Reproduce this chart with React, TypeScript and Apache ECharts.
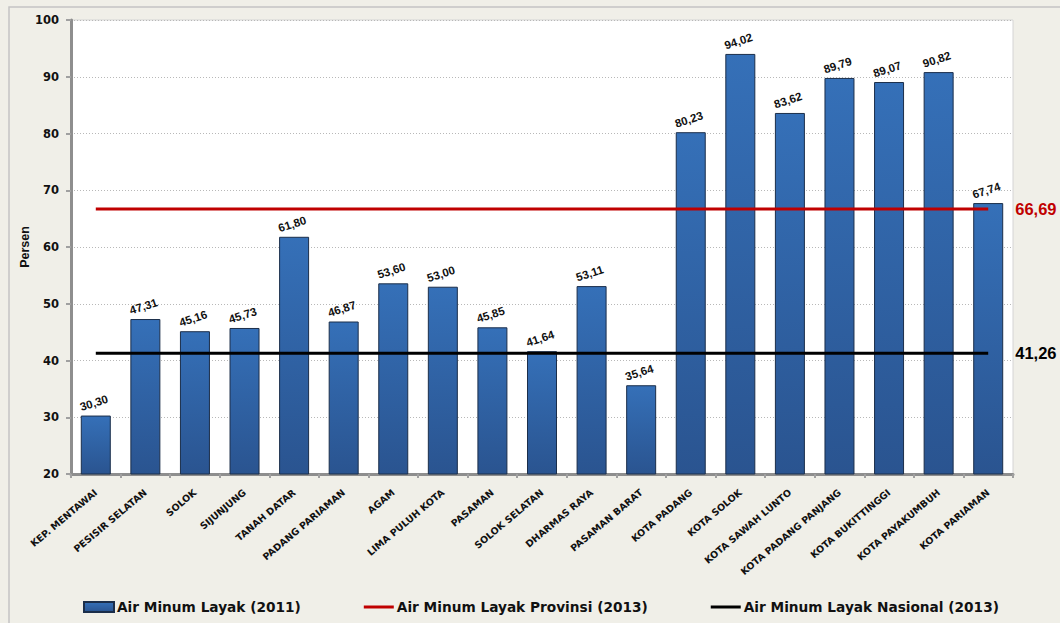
import React, { useEffect, useRef } from "react";
import * as echarts from "echarts";

const categories = [
  "KEP. MENTAWAI", "PESISIR SELATAN", "SOLOK", "SIJUNJUNG", "TANAH DATAR",
  "PADANG PARIAMAN", "AGAM", "LIMA PULUH KOTA", "PASAMAN", "SOLOK SELATAN",
  "DHARMAS RAYA", "PASAMAN BARAT", "KOTA PADANG", "KOTA SOLOK", "KOTA SAWAH LUNTO",
  "KOTA PADANG PANJANG", "KOTA BUKITTINGGI", "KOTA PAYAKUMBUH", "KOTA PARIAMAN",
];
const airMinum2011 = [
  30.3, 47.31, 45.16, 45.73, 61.8, 46.87, 53.6, 53.0, 45.85, 41.64,
  53.11, 35.64, 80.23, 94.02, 83.62, 89.79, 89.07, 90.82, 67.74,
];
const provinsi2013 = 66.69;
const nasional2013 = 41.26;
const seriesNames = [
  "Air Minum Layak (2011)",
  "Air Minum Layak Provinsi (2013)",
  "Air Minum Layak Nasional (2013)",
];

const fmt = (v: number) => v.toFixed(2).replace(".", ",");

export default function App() {
  const ref = useRef<HTMLDivElement>(null);
  useEffect(() => {
    if (!ref.current) return;
    const chart = echarts.init(ref.current, undefined, { renderer: "svg" });
    const font = "DejaVu Sans";
    const font2 = "Liberation Sans";
    const lineIcon = "path://M0,0 H30 V3 H0 Z";
    chart.setOption({
      animation: false,
      backgroundColor: "#F0EFE8",
      textStyle: { fontFamily: font },
      graphic: [
        {
          type: "rect",
          shape: { x: 9, y: 7, width: 1100, height: 700 },
          style: { fill: "none", stroke: "#C4C4C4", lineWidth: 1.5 },
          silent: true,
        },
      ],
      grid: {
        left: 71, right: 47, top: 20, bottom: 149,
        show: true, backgroundColor: "#FFFFFF", borderColor: "#D4D4D4", borderWidth: 1,
      },
      legend: {
        left: 78, top: 595,
        itemWidth: 30, itemHeight: 10, itemGap: 63,
        data: [
          { name: seriesNames[0], icon: "rect" },
          { name: seriesNames[1], icon: lineIcon },
          { name: seriesNames[2], icon: lineIcon },
        ],
        textStyle: {
          fontFamily: font, fontWeight: "bold", fontSize: 13.7, color: "#111",
          padding: [0, 0, 0, -2],
        },
      },
      xAxis: {
        type: "category",
        data: categories,
        axisLine: { lineStyle: { color: "#8E8E8E", width: 3 } },
        axisTick: { show: true, length: 4, lineStyle: { color: "#A0A0A0", width: 2 } },
        axisLabel: {
          interval: 0, rotate: 40, fontSize: 9.5, fontWeight: "bold", color: "#111",
          fontFamily: font, margin: 17,
        },
      },
      yAxis: {
        type: "value",
        min: 20, max: 100, interval: 10,
        name: "Persen", nameLocation: "middle", nameRotate: 90, nameGap: 40,
        nameMoveOverlap: false,
        nameTextStyle: { fontSize: 12.5, fontWeight: "bold", color: "#111", fontFamily: font2 },
        axisLine: { show: true, lineStyle: { color: "#8E8E8E", width: 3 } },
        axisTick: { show: true, length: 5, lineStyle: { color: "#A0A0A0", width: 2 } },
        axisLabel: { fontSize: 11.5, fontWeight: "bold", color: "#111", margin: 12, fontFamily: font },
        splitLine: { lineStyle: { color: "#B8B8B8", type: [1, 2], width: 1 } },
      },
      series: [
        {
          name: seriesNames[0],
          type: "bar",
          data: airMinum2011,
          barWidth: 30,
          itemStyle: {
            color: new echarts.graphic.LinearGradient(0, 0, 0, 1, [
              { offset: 0, color: "#3570B8" },
              { offset: 1, color: "#2A5490" },
            ]),
            borderColor: "#1B2E4A",
            borderWidth: 1,
          },
          label: {
            show: true, position: "top", rotate: 18, distance: 7,
            formatter: (p: any) => fmt(p.value),
            fontSize: 11.5, fontWeight: "bold", color: "#111", fontFamily: font2,
          },
          z: 2,
        },
        {
          name: seriesNames[1],
          type: "line",
          data: categories.map(() => provinsi2013),
          symbol: "none",
          lineStyle: { color: "#C00000", width: 3 },
          itemStyle: { color: "#C00000" },
          endLabel: {
            show: true, formatter: () => fmt(provinsi2013), distance: 27,
            fontSize: 16.5, fontWeight: "bold", color: "#C00000", fontFamily: font2,
          },
          z: 3,
        },
        {
          name: seriesNames[2],
          type: "line",
          data: categories.map(() => nasional2013),
          symbol: "none",
          lineStyle: { color: "#000000", width: 3 },
          itemStyle: { color: "#000000" },
          endLabel: {
            show: true, formatter: () => fmt(nasional2013), distance: 27,
            fontSize: 16.5, fontWeight: "bold", color: "#000000", fontFamily: font2,
          },
          z: 3,
        },
      ],
    });
    return () => chart.dispose();
  }, []);
  return (
    <div
      ref={ref}
      style={{ position: "fixed", left: 0, top: 0, width: 1060, height: 623 }}
    />
  );
}
